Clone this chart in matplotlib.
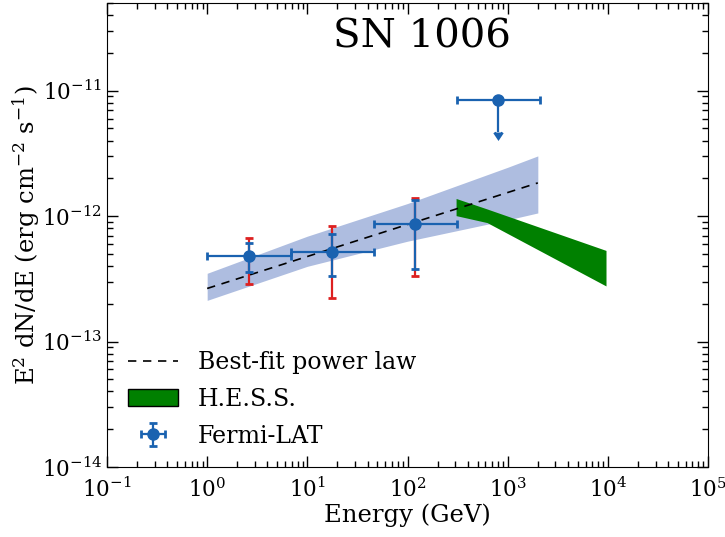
import numpy as np
import matplotlib
matplotlib.use("Agg")
import matplotlib.pyplot as plt

# ---------------- data ----------------
# Fermi-LAT flux points (E [GeV], E^2 dN/dE [erg cm^-2 s^-1])
lat_E = [2.63, 17.8, 120.0]
lat_E_lo = [1.0, 6.87, 46.0]
lat_E_hi = [6.87, 46.0, 314.0]
lat_F = [4.79e-13, 5.22e-13, 8.63e-13]
lat_F_stat_lo = [3.59e-13, 3.31e-13, 3.77e-13]
lat_F_stat_hi = [6.05e-13, 7.18e-13, 1.35e-12]
lat_F_sys_lo = [2.89e-13, 2.21e-13, 3.33e-13]
lat_F_sys_hi = [6.71e-13, 8.32e-13, 1.40e-12]

# Fermi-LAT upper limit
ul_E = [807.0]
ul_E_lo = [311.0]
ul_E_hi = [2123.0]
ul_F = [8.47e-12]
ul_F_arrow = [4.7e-12]

# Best-fit power law and its uncertainty band
fit_E = [1.0, 2000.0]
fit_F = [2.65e-13, 1.84e-12]
band_E = [1.0, 10.0, 100.0, 1000.0, 2000.0]
band_hi = [3.50e-13, 6.92e-13, 1.26e-12, 2.45e-12, 3.02e-12]
band_lo = [2.13e-13, 3.98e-13, 6.31e-13, 9.33e-13, 1.06e-12]

# H.E.S.S. butterfly
hess_E = [309.0, 630.0, 9700.0]
hess_hi = [1.37e-12, 1.13e-12, 5.28e-13]
hess_lo = [1.00e-12, 8.8e-13, 2.75e-13]

# ---------------- style ----------------
plt.rcParams['font.family'] = ['DejaVu Serif']
plt.rcParams['mathtext.fontset'] = 'dejavuserif'
plt.rcParams['axes.unicode_minus'] = False

blue = '#1a62b0'
red = '#dd2020'
band_color = '#aebde0'

fig = plt.figure(figsize=(7.25, 5.37), dpi=100)
ax = fig.add_axes([107/725, 1-467/537, (708-107)/725, (467-3)/537])

ax.fill_between(band_E, band_lo, band_hi, color=band_color, lw=0, zorder=1)
ax.plot(fit_E, fit_F, ls='--', color='black', lw=1.2, dashes=(5, 4), zorder=3,
        label='Best-fit power law')
ax.fill_between(hess_E, hess_lo, hess_hi, facecolor='green', edgecolor='none', lw=0,
                zorder=2)
ax.fill_between([], [], [], facecolor='green', edgecolor='black', lw=1,
                label='H.E.S.S.')

lat_E = np.array(lat_E); lat_F = np.array(lat_F)
xerr = [lat_E - np.array(lat_E_lo), np.array(lat_E_hi) - lat_E]
sys_err = [lat_F - np.array(lat_F_sys_lo), np.array(lat_F_sys_hi) - lat_F]
stat_err = [lat_F - np.array(lat_F_stat_lo), np.array(lat_F_stat_hi) - lat_F]

ax.errorbar(lat_E, lat_F, yerr=sys_err, fmt='none', ecolor=red, elinewidth=1.6,
            capsize=3, capthick=2, zorder=4)
ax.errorbar(lat_E, lat_F, xerr=xerr, yerr=stat_err, fmt='o', color=blue, ms=8,
            elinewidth=1.6, capsize=3, capthick=2, zorder=5, label='Fermi-LAT')

ul_E = np.array(ul_E); ul_F = np.array(ul_F)
ax.errorbar(ul_E, ul_F,
            xerr=[ul_E - np.array(ul_E_lo), np.array(ul_E_hi) - ul_E],
            yerr=[ul_F - np.array(ul_F_arrow), np.zeros_like(ul_F)],
            uplims=True, fmt='o', color=blue, ms=8, elinewidth=1.6,
            capsize=3, capthick=2, zorder=5)

ax.set_xscale('log')
ax.set_yscale('log')
ax.set_xlim(0.1, 1e5)
ax.set_ylim(1e-14, 5e-11)

ax.tick_params(which='both', direction='in', top=True, right=True, labelsize=15.5)
ax.tick_params(which='major', length=8, width=1)
ax.tick_params(which='minor', length=4, width=1)
ax.xaxis.set_tick_params(pad=8)

ax.set_xlabel('Energy (GeV)', fontsize=17.5, labelpad=1)
ax.set_ylabel(r'E$^2$ dN/dE (erg cm$^{-2}$ s$^{-1}$)', fontsize=17.5, labelpad=0)
ax.text(0.524, 0.927, 'SN 1006', transform=ax.transAxes, ha='center', va='center',
        fontsize=29)

leg = ax.legend(loc='lower left', frameon=False, fontsize=17, numpoints=1,
                labelspacing=0.58, handlelength=2.1, handletextpad=0.85,
                bbox_to_anchor=(0.0, -0.004))

fig.savefig('out.png', dpi=100)
